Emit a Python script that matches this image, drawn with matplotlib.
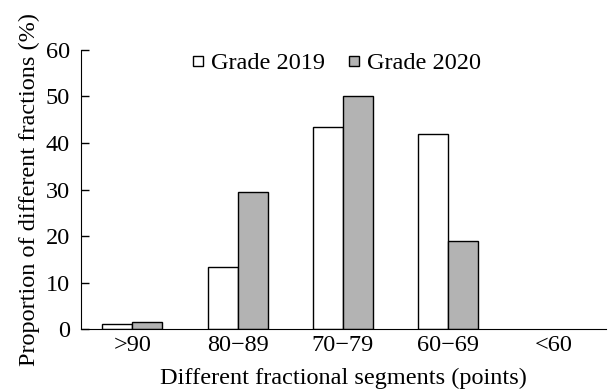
import matplotlib
matplotlib.use("Agg")
import matplotlib.pyplot as plt
from matplotlib.lines import Line2D
import numpy as np

categories = ['>90', '80\u221289', '70\u221279', '60\u221269', '<60']
grade_2019 = [1.2, 13.4, 43.4, 42.0, 0.0]
grade_2020 = [1.6, 29.4, 50.0, 18.9, 0.0]

plt.rcParams['font.family'] = ['Liberation Serif', 'DejaVu Serif']
plt.rcParams['font.size'] = 17.5

fig = plt.figure(figsize=(6.08, 3.90), dpi=100)
ax = fig.add_axes([0.133, 0.156, 0.864, 0.716])

x = np.arange(len(categories))
w = 0.285
# zero-height bars get no outline, as in the original
lw19 = [1 if v > 0 else 0 for v in grade_2019]
lw20 = [1 if v > 0 else 0 for v in grade_2020]
ax.bar(x - w / 2, grade_2019, w, color='white', edgecolor='black', linewidth=lw19)
ax.bar(x + w / 2, grade_2020, w, color='#b3b3b3', edgecolor='black', linewidth=lw20)

ax.set_xlim(-0.49, 4.5)
ax.set_ylim(0, 60)
ax.set_yticks(range(0, 61, 10))
ax.set_xticks(x)
ax.set_xticklabels(categories)
ax.tick_params(axis='y', direction='in', length=6, width=1, pad=8)
ax.tick_params(axis='x', length=0, pad=4)
ax.spines['top'].set_visible(False)
ax.spines['right'].set_visible(False)

ax.set_xlabel('Different fractional segments (points)', labelpad=9)
ax.set_ylabel('Proportion of different fractions (%)', labelpad=4)

# square markers for the legend keys
handles = [
    Line2D([], [], linestyle='none', marker='s', markersize=7, markerfacecolor='white',
           markeredgecolor='black', markeredgewidth=1),
    Line2D([], [], linestyle='none', marker='s', markersize=7, markerfacecolor='#b3b3b3',
           markeredgecolor='black', markeredgewidth=1),
]
ax.legend(handles, ['Grade 2019', 'Grade 2020'], loc='upper center',
          bbox_to_anchor=(0.487, 1.07), ncol=2, frameon=False,
          handlelength=0.45, handletextpad=0.3, columnspacing=1.0)

fig.savefig('out.png', dpi=100)
